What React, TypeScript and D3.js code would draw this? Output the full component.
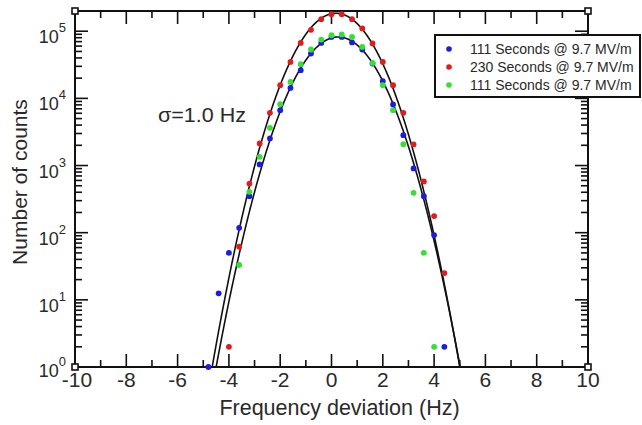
import React from "react";
import * as d3 from "d3";

// ---- data ----
const redX = [-4.0, -3.6, -3.2, -2.8, -2.4, -2.0, -1.6, -1.2, -0.8, -0.4, 0, 0.4, 0.8, 1.2, 1.6, 2.0, 2.4, 2.8, 3.2, 3.6, 4.0, 4.4];
const redY = [2, 62, 538, 2130, 6090, 15700, 34900, 67000, 105000, 151000, 179000, 179000, 151000, 110000, 65600, 34900, 15700, 6090, 2060, 580, 177, 25];

const blueX = [-4.8, -4.4, -4.0, -3.6, -3.2, -2.8, -2.4, -2.0, -1.6, -1.2, -0.8, -0.4, 0, 0.4, 0.8, 1.2, 1.6, 2.0, 2.4, 2.8, 3.2, 3.6, 4.0, 4.4];
const blueY = [1, 12.5, 50, 118, 350, 1040, 2530, 6670, 14300, 26300, 46600, 67000, 82300, 82300, 68000, 53400, 33000, 18000, 8110, 2830, 906, 350, 92, 2];

const greenX = [-3.6, -3.2, -2.8, -2.4, -2.0, -1.6, -1.2, -0.8, -0.4, 0, 0.4, 0.8, 1.2, 1.6, 2.0, 2.4, 2.8, 3.2, 3.6, 4.0];
const greenY = [33, 406, 1350, 3640, 8200, 17600, 32300, 53400, 75200, 87100, 89300, 82300, 58400, 33700, 15700, 6670, 2080, 392, 50, 2];

const seriesNames = ["111 Seconds @ 9.7 MV/m", "230 Seconds @ 9.7 MV/m", "111 Seconds @ 9.7 MV/m"];
const seriesColors = ["#1c1ce0", "#e01c1c", "#34e034"];

// Gaussian fit parameters (two fitted curves)
const fitAmplitudes = [1.85e5, 8.2e4];
const fitCenters = [0.175, 0.26];
const fitSigmas = [0.98, 1.0];

const xMajorTicks = [-10, -8, -6, -4, -2, 0, 2, 4, 6, 8, 10];
const xMinorTicks = [-9, -7, -5, -3, -1, 1, 3, 5, 7, 9];
const yDecades = [0, 1, 2, 3, 4, 5];
const annotation = "\u03c3=1.0 Hz";

const W = 642, H = 425;
const L = 75, R = 588, T = 11, B = 367;

export default function App() {
  const x = d3.scaleLinear().domain([-10, 10]).range([L, R]);
  const y = d3.scaleLog().domain([1, 2e5]).range([B, T]);

  const yMinor: number[] = [];
  yDecades.forEach((d) => {
    for (let k = 2; k <= 9; k++) {
      const v = k * Math.pow(10, d);
      if (v < 2e5) yMinor.push(v);
    }
  });

  const fitPaths = fitAmplitudes.map((A, i) => {
    const pts: [number, number][] = [];
    for (let xv = -6; xv <= 6.0001; xv += 0.01) {
      const v = A * Math.exp(-((xv - fitCenters[i]) ** 2) / (2 * fitSigmas[i] ** 2));
      pts.push([xv, Math.max(v, 0.5)]);
    }
    return d3.line<[number, number]>().x((p) => x(p[0])).y((p) => y(p[1]))(pts) || "";
  });

  const series = [
    { xs: blueX, ys: blueY, color: seriesColors[0] },
    { xs: redX, ys: redY, color: seriesColors[1] },
    { xs: greenX, ys: greenY, color: seriesColors[2] },
  ];

  const font = "'Liberation Sans', Arial, Helvetica, sans-serif";
  const textCol = "#2a2a2a";
  const major = 13, minor = 7;
  const sq = 6;

  return (
    <svg width={W} height={H} style={{ position: "absolute", left: 0, top: 0, background: "#fff" }} fontFamily={font}>
      <defs>
        <clipPath id="plotclip">
          <rect x={L} y={T} width={R - L} height={B - T} />
        </clipPath>
      </defs>
      <rect x={0} y={0} width={W} height={H} fill="#fff" />

      {/* fit curves */}
      <g clipPath="url(#plotclip)">
        {fitPaths.map((d, i) => (
          <path key={i} d={d} fill="none" stroke="#111" strokeWidth={1.6} />
        ))}
      </g>

      {/* ticks */}
      <g stroke="#111" strokeWidth={1.6}>
        {xMajorTicks.map((t) => (
          <g key={"xm" + t}>
            <line x1={x(t)} x2={x(t)} y1={B} y2={B - major} />
            <line x1={x(t)} x2={x(t)} y1={T} y2={T + major} />
          </g>
        ))}
        {xMinorTicks.map((t) => (
          <g key={"xn" + t}>
            <line x1={x(t)} x2={x(t)} y1={B} y2={B - minor} />
            <line x1={x(t)} x2={x(t)} y1={T} y2={T + minor} />
          </g>
        ))}
        {yDecades.map((d) => (
          <g key={"ym" + d}>
            <line x1={L} x2={L + major} y1={y(Math.pow(10, d))} y2={y(Math.pow(10, d))} />
            <line x1={R} x2={R - major} y1={y(Math.pow(10, d))} y2={y(Math.pow(10, d))} />
          </g>
        ))}
        {yMinor.map((v, i) => (
          <g key={"yn" + i}>
            <line x1={L} x2={L + minor} y1={y(v)} y2={y(v)} />
            <line x1={R} x2={R - minor} y1={y(v)} y2={y(v)} />
          </g>
        ))}
      </g>

      {/* frame */}
      <rect x={L} y={T} width={R - L} height={B - T} fill="none" stroke="#111" strokeWidth={2} />
      {[
        [L, T], [R, T], [L, B], [R, B],
      ].map(([cx, cy], i) => (
        <rect key={"sq" + i} x={cx - sq / 2} y={cy - sq / 2} width={sq} height={sq} fill="#fff" stroke="#111" strokeWidth={1.6} />
      ))}

      {/* data points */}
      {series.map((s, si) => (
        <g key={"s" + si} fill={s.color}>
          {s.xs.map((xv, i) => (
            <circle key={i} cx={x(xv)} cy={y(s.ys[i])} r={2.9} />
          ))}
        </g>
      ))}

      {/* x tick labels */}
      {xMajorTicks.map((t) => (
        <text key={"xl" + t} x={x(t) + (t === -10 ? 2 : 0)} y={B + 20} fontSize={21} textAnchor="middle" fill={textCol}>
          {t}
        </text>
      ))}

      {/* y tick labels */}
      {yDecades.map((d) => (
        <text key={"yl" + d} x={L - 9} y={y(Math.pow(10, d)) + (d === 0 ? 10 : 12)} fontSize={18} textAnchor="end" fill={textCol}>
          10
          <tspan dy={-11} fontSize={13}>{d}</tspan>
        </text>
      ))}

      {/* axis titles */}
      <text x={x(0) + 8} y={415} fontSize={21.5} textAnchor="middle" fill={textCol}>
        Frequency deviation (Hz)
      </text>
      <text transform={`translate(27,${182}) rotate(-90)`} fontSize={21} textAnchor="middle" fill={textCol}>
        Number of counts
      </text>

      {/* annotation */}
      <text x={158} y={122} fontSize={20} textLength={88} lengthAdjust="spacingAndGlyphs" fill={textCol}>
        {annotation}
      </text>

      {/* legend */}
      <rect x={435} y={35} width={205} height={62} fill="#fff" stroke="#111" strokeWidth={2} />
      {seriesNames.map((n, i) => (
        <g key={"lg" + i}>
          <circle cx={449} cy={49 + i * 18} r={2.8} fill={seriesColors[i]} />
          <text x={470} y={49 + i * 18 + 5} fontSize={14} fill={textCol}>
            {n}
          </text>
        </g>
      ))}
    </svg>
  );
}
